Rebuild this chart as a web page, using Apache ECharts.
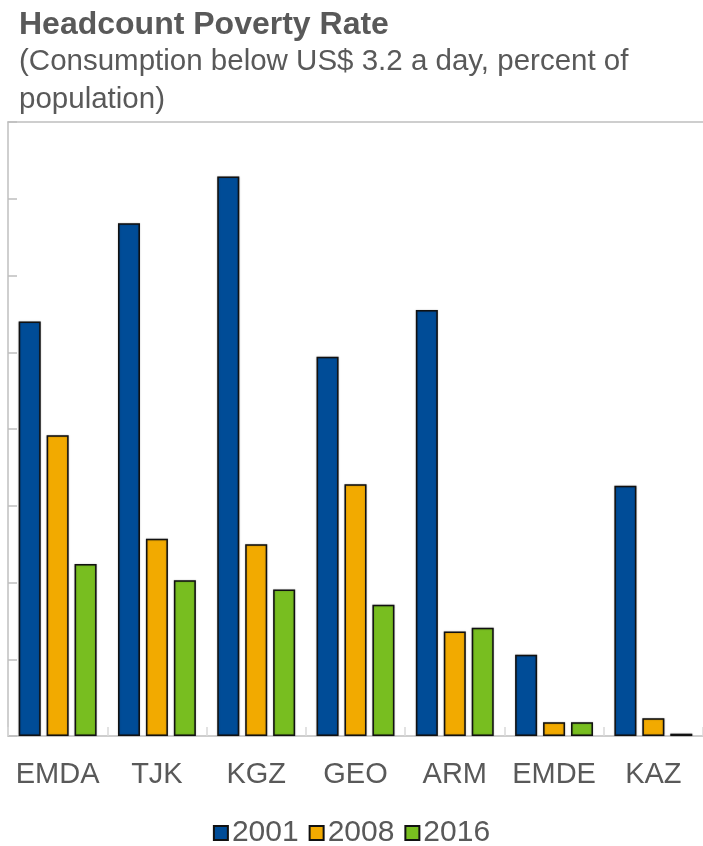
<!DOCTYPE html>
<html>
<head>
<meta charset="utf-8">
<script src="https://cdn.jsdelivr.net/npm/echarts@6/dist/echarts.min.js"></script>
<style>
  html, body { margin: 0; padding: 0; background: #fff; }
  #chart { width: 703px; height: 846px; }
</style>
</head>
<body>
<div id="chart"></div>
<script>
// Headcount poverty rate, consumption below US$3.2 a day (% of population)
const categories = ['EMDA', 'TJK', 'KGZ', 'GEO', 'ARM', 'EMDE', 'KAZ'];
const years = ['2001', '2008', '2016'];
const values2001 = [54.0, 66.8, 72.9, 49.4, 55.5, 10.6, 32.6];
const values2008 = [39.2, 25.7, 25.0, 32.8, 13.6, 1.8, 2.3];
const values2016 = [22.4, 20.3, 19.1, 17.1, 14.1, 1.8, 0.3];
const colors = ['#004C97', '#F2AA00', '#78BE20'];

const FONT = '"Liberation Sans", Arial, sans-serif';
const TEXT = '#595959';
const AXIS = '#BFBFBF';

const seriesData = [values2001, values2008, values2016];

const chart = echarts.init(document.getElementById('chart'), null, { renderer: 'canvas' });
chart.setOption({
  animation: false,
  backgroundColor: '#fff',
  color: colors,
  title: [
    {
      text: 'Headcount Poverty Rate',
      left: 14, top: 3,
      textStyle: { fontFamily: FONT, fontSize: 32, fontWeight: 'bold', color: TEXT, lineHeight: 34 }
    },
    {
      text: '(Consumption below US$ 3.2 a day, percent of\npopulation)',
      left: 14, top: 38,
      textStyle: { fontFamily: FONT, fontSize: 29.5, fontWeight: 'normal', color: TEXT, lineHeight: 38 }
    }
  ],
  legend: {
    top: 813,
    left: 'center',
    itemWidth: 14,
    itemHeight: 14,
    itemGap: 10,
    icon: 'rect',
    textStyle: { fontFamily: FONT, fontSize: 30, color: TEXT, padding: [0, 0, 0, -1] },
    data: years
  },
  grid: { left: 8, right: -5, top: 122, bottom: 110 },
  xAxis: [
    {
      type: 'category',
      data: categories,
      position: 'bottom',
      axisLine: { show: true, lineStyle: { color: AXIS, width: 1.5 } },
      axisTick: { show: true, inside: true, length: 9, lineStyle: { color: '#D9D9D9', width: 1.5 } },
      axisLabel: { fontFamily: FONT, fontSize: 29, color: TEXT, margin: 24, interval: 0 }
    },
    {
      type: 'category',
      data: categories,
      position: 'top',
      axisLine: { show: true, lineStyle: { color: AXIS, width: 1.5 } },
      axisTick: { show: false },
      axisLabel: { show: false }
    }
  ],
  yAxis: {
    type: 'value',
    min: 0,
    max: 80,
    interval: 10,
    axisLine: { show: true, lineStyle: { color: AXIS, width: 1.5 } },
    axisTick: { show: true, inside: true, length: 9, lineStyle: { color: AXIS, width: 1.5 } },
    axisLabel: { show: false },
    splitLine: { show: false }
  },
  series: years.map((y, i) => ({
    name: y,
    type: 'bar',
    data: seriesData[i],
    barWidth: 22,
    barGap: '27%',
    itemStyle: {
      color: colors[i],
      borderColor: '#111',
      borderWidth: 1.5,
      shadowColor: 'rgba(0,0,0,0.35)',
      shadowBlur: 1.5
    }
  }))
});
</script>
</body>
</html>
